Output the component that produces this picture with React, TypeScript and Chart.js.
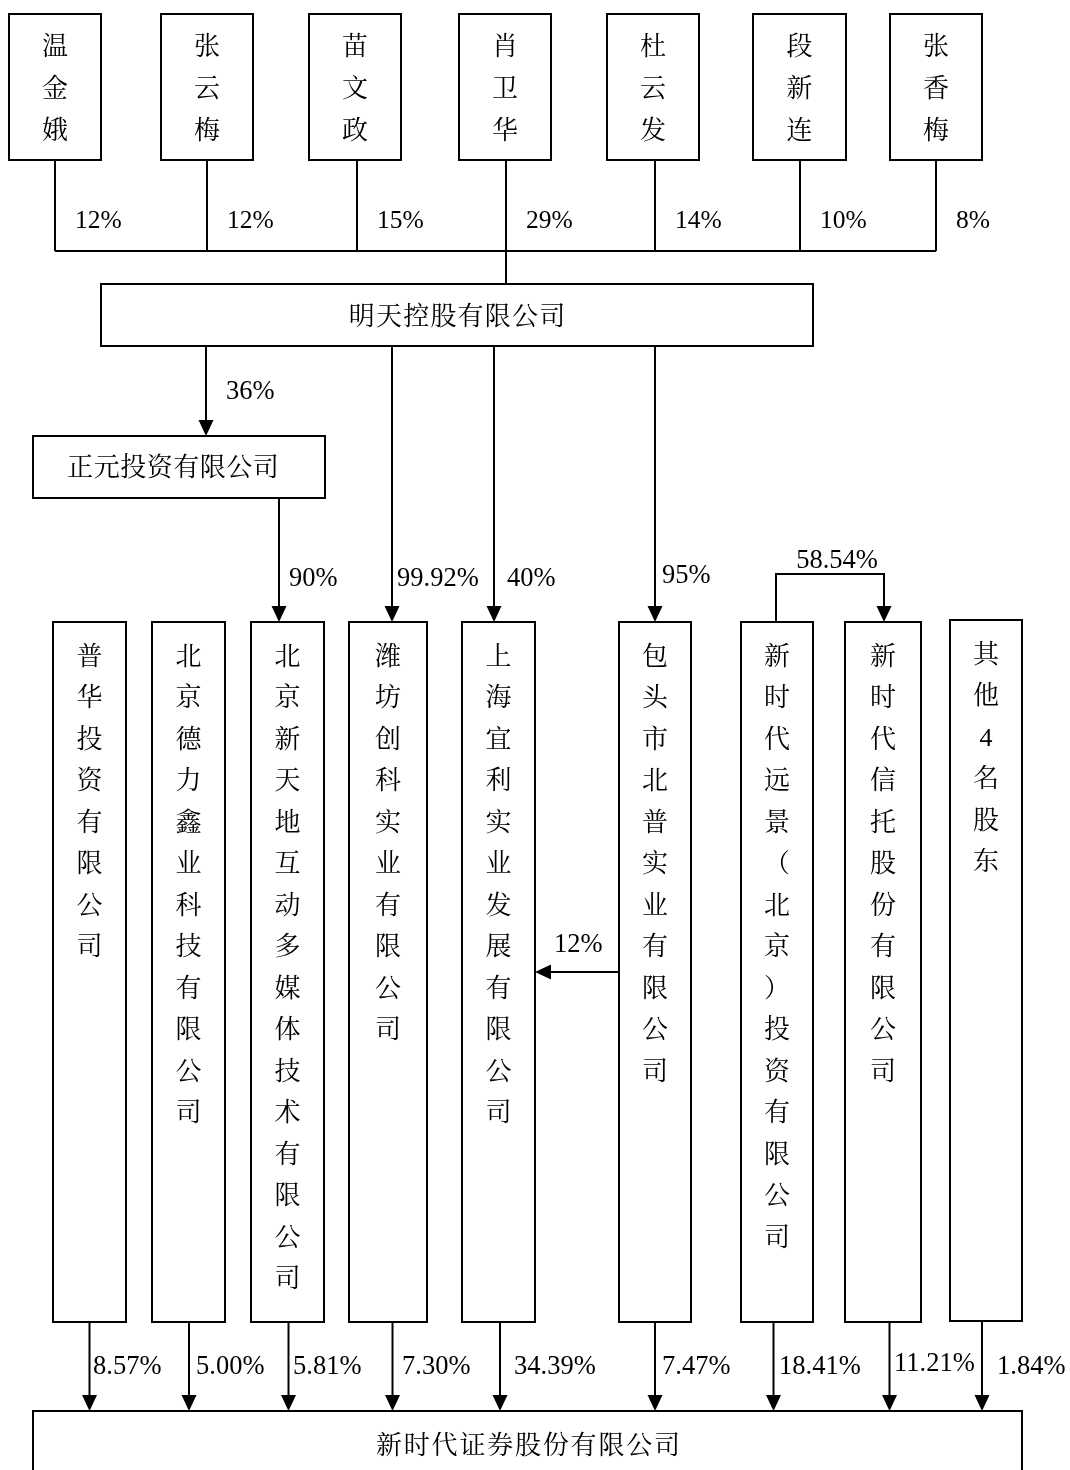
import React, { useEffect, useRef } from 'react';
import { Chart, registerables } from 'chart.js';

Chart.register(...registerables);

const W = 1070;
const H = 1470;

// ---------- data ----------
const topShareholders = ['温金娥', '张云梅', '苗文政', '肖卫华', '杜云发', '段新连', '张香梅'];
const topStakes = ['12%', '12%', '15%', '29%', '14%', '10%', '8%'];
const holdingCompany = '明天控股有限公司';
const midCompany = '正元投资有限公司';
const holdingToMidStake = '36%';
const midToXintiandiStake = '90%';
const holdingDirectStakes = ['99.92%', '40%', '95%'];
const baotouToShanghaiStake = '12%';
const yuanjingToTrustStake = '58.54%';
const subsidiaries = [
  '普华投资有限公司',
  '北京德力鑫业科技有限公司',
  '北京新天地互动多媒体技术有限公司',
  '潍坊创科实业有限公司',
  '上海宜利实业发展有限公司',
  '包头市北普实业有限公司',
  '新时代远景（北京）投资有限公司',
  '新时代信托股份有限公司',
  '其他4名股东',
];
const subsidiaryStakes = ['8.57%', '5.00%', '5.81%', '7.30%', '34.39%', '7.47%', '18.41%', '11.21%', '1.84%'];
const targetCompany = '新时代证券股份有限公司';

// ---------- layout (positions only) ----------
const topBoxX = [[9, 101], [161, 253], [309, 401], [459, 551], [607, 699], [753, 846], [890, 982]];
const topBoxY = [14, 160];
const topLineX = [55, 207, 357, 506, 655, 800, 936];
const topBusY = 251;
const holdBox = [101, 284, 813, 346];
const midBox = [33, 436, 325, 498];
const subBoxX = [[53, 126], [152, 225], [251, 324], [349, 427], [462, 535], [619, 691], [741, 813], [845, 921], [950, 1022]];
const subBoxY = [622, 1322];
const subDownX = [89.5, 189, 288.5, 392.5, 500, 655, 773.5, 889.5, 982];
const subLabelX = [93, 196, 293, 402, 514, 662, 779, 894, 997];
const targetBox = [33, 1411, 1022, 1490];

const SERIF = '"Liberation Serif", "Times New Roman", "Noto Serif CJK SC", "Noto Sans CJK SC", serif';

const orgPlugin = {
  id: 'orgChart',
  beforeDraw(chart: any) {
    const c = chart.ctx;
    c.save();
    c.fillStyle = '#ffffff';
    c.fillRect(0, 0, chart.width, chart.height);
    c.restore();
  },
  afterDatasetsDraw(chart: any) {
    const c: CanvasRenderingContext2D = chart.ctx;
    const xs = chart.scales.x;
    const ys = chart.scales.y;
    const X = (v: number) => xs.getPixelForValue(v);
    const Y = (v: number) => ys.getPixelForValue(v);

    c.save();
    c.strokeStyle = '#000';
    c.fillStyle = '#000';
    c.lineWidth = 2;
    c.lineCap = 'butt';
    c.lineJoin = 'miter';

    const rect = (x1: number, y1: number, x2: number, y2: number) => {
      c.strokeRect(X(x1), Y(y1), X(x2) - X(x1), Y(y2) - Y(y1));
    };
    const poly = (pts: number[][]) => {
      c.beginPath();
      pts.forEach((p, i) => (i === 0 ? c.moveTo(X(p[0]), Y(p[1])) : c.lineTo(X(p[0]), Y(p[1]))));
      c.stroke();
    };
    const arrow = (pts: number[][]) => {
      const n = pts.length;
      const [ex, ey] = pts[n - 1];
      const [px, py] = pts[n - 2];
      const ang = Math.atan2(Y(ey) - Y(py), X(ex) - X(px));
      const len = 16;
      const half = 7.5;
      const bx = X(ex) - len * Math.cos(ang);
      const by = Y(ey) - len * Math.sin(ang);
      c.beginPath();
      pts.forEach((p, i) => {
        const x = i === n - 1 ? bx : X(p[0]);
        const y = i === n - 1 ? by : Y(p[1]);
        if (i === 0) c.moveTo(x, y);
        else c.lineTo(x, y);
      });
      c.stroke();
      c.beginPath();
      c.moveTo(X(ex), Y(ey));
      c.lineTo(bx + half * Math.sin(ang), by - half * Math.cos(ang));
      c.lineTo(bx - half * Math.sin(ang), by + half * Math.cos(ang));
      c.closePath();
      c.fill();
    };
    const text = (s: string, x: number, y: number, align: CanvasTextAlign = 'left', size = 26.5) => {
      c.font = `${size}px ${SERIF}`;
      c.textAlign = align;
      c.textBaseline = 'middle';
      c.fillText(s, X(x), Y(y) + 2);
    };
    const hText = (s: string, cx: number, cy: number, spacing = 1.5) => {
      c.font = `26px ${SERIF}`;
      c.textBaseline = 'middle';
      c.textAlign = 'center';
      const chars = Array.from(s);
      const widths = chars.map((ch) => c.measureText(ch).width);
      const total = widths.reduce((a, b) => a + b, 0) + spacing * (chars.length - 1);
      let x = X(cx) - total / 2;
      chars.forEach((ch, i) => {
        c.fillText(ch, x + widths[i] / 2, Y(cy) + 2);
        x += widths[i] + spacing;
      });
    };
    const vText = (s: string, cx: number, y0: number, step: number) => {
      c.font = `26px ${SERIF}`;
      c.textBaseline = 'middle';
      c.textAlign = 'center';
      Array.from(s).forEach((ch, i) => c.fillText(ch, X(cx), Y(y0 + i * step) + 2));
    };

    // top shareholders
    topShareholders.forEach((name, i) => {
      const [x1, x2] = topBoxX[i];
      rect(x1, topBoxY[0], x2, topBoxY[1]);
      vText(name, (x1 + x2) / 2, 46, 42);
      poly([[topLineX[i], topBoxY[1]], [topLineX[i], topBusY]]);
      text(topStakes[i], topLineX[i] + 20, 219, 'left', 25.5);
    });
    poly([[topLineX[0], topBusY], [topLineX[topLineX.length - 1], topBusY]]);
    poly([[506, topBusY], [506, holdBox[1]]]);

    // holding company
    rect(holdBox[0], holdBox[1], holdBox[2], holdBox[3]);
    hText(holdingCompany, 457, 316, 1.2);

    // holding -> mid
    arrow([[206, holdBox[3]], [206, midBox[1]]]);
    text(holdingToMidStake, 226, 390);
    rect(midBox[0], midBox[1], midBox[2], midBox[3]);
    hText(midCompany, 173, 467, 0.5);

    // mid -> 北京新天地
    arrow([[279, midBox[3]], [279, subBoxY[0]]]);
    text(midToXintiandiStake, 289, 577);

    // holding direct
    const directX = [392, 494, 655];
    const directLabelX = [397, 507, 662];
    const directLabelY = [577, 577, 574];
    directX.forEach((x, i) => {
      arrow([[x, holdBox[3]], [x, subBoxY[0]]]);
      text(holdingDirectStakes[i], directLabelX[i], directLabelY[i]);
    });

    // 远景 -> 信托 bracket
    arrow([[776, subBoxY[0]], [776, 574], [884, 574], [884, subBoxY[0]]]);
    text(yuanjingToTrustStake, 837, 559, 'center');

    // subsidiaries
    subsidiaries.forEach((name, i) => {
      const [x1, x2] = subBoxX[i];
      const isLast = i === subsidiaries.length - 1;
      const yTop = isLast ? 620 : subBoxY[0];
      const yBot = isLast ? 1321 : subBoxY[1];
      rect(x1, yTop, x2, yBot);
      vText(name, (x1 + x2) / 2, isLast ? 654 : 656, 41.5);
      arrow([[subDownX[i], yBot], [subDownX[i], targetBox[1]]]);
      text(subsidiaryStakes[i], subLabelX[i], i === 7 ? 1362 : 1365);
    });

    // 包头 -> 上海宜利
    arrow([[619, 972], [535, 972]]);
    text(baotouToShanghaiStake, 554, 943);

    // target
    rect(targetBox[0], targetBox[1], targetBox[2], targetBox[3]);
    hText(targetCompany, 528, 1445, 1.8);

    c.restore();
  },
};

export default function App() {
  const ref = useRef<HTMLCanvasElement | null>(null);
  useEffect(() => {
    document.body.style.margin = '0';
    if (!ref.current) return;
    const chart = new Chart(ref.current, {
      type: 'scatter',
      data: { datasets: [{ data: [], pointRadius: 0 }] },
      options: {
        animation: false,
        responsive: false,
        maintainAspectRatio: false,
        layout: { padding: 0 },
        plugins: { legend: { display: false }, tooltip: { enabled: false } },
        scales: {
          x: { type: 'linear', min: 0, max: W, display: false },
          y: { type: 'linear', min: 0, max: H, reverse: true, display: false },
        },
      },
      plugins: [orgPlugin],
    });
    return () => chart.destroy();
  }, []);
  return (
    <div style={{ width: W, height: H }}>
      <canvas ref={ref} width={W} height={H} style={{ display: 'block', width: W, height: H }} />
    </div>
  );
}
